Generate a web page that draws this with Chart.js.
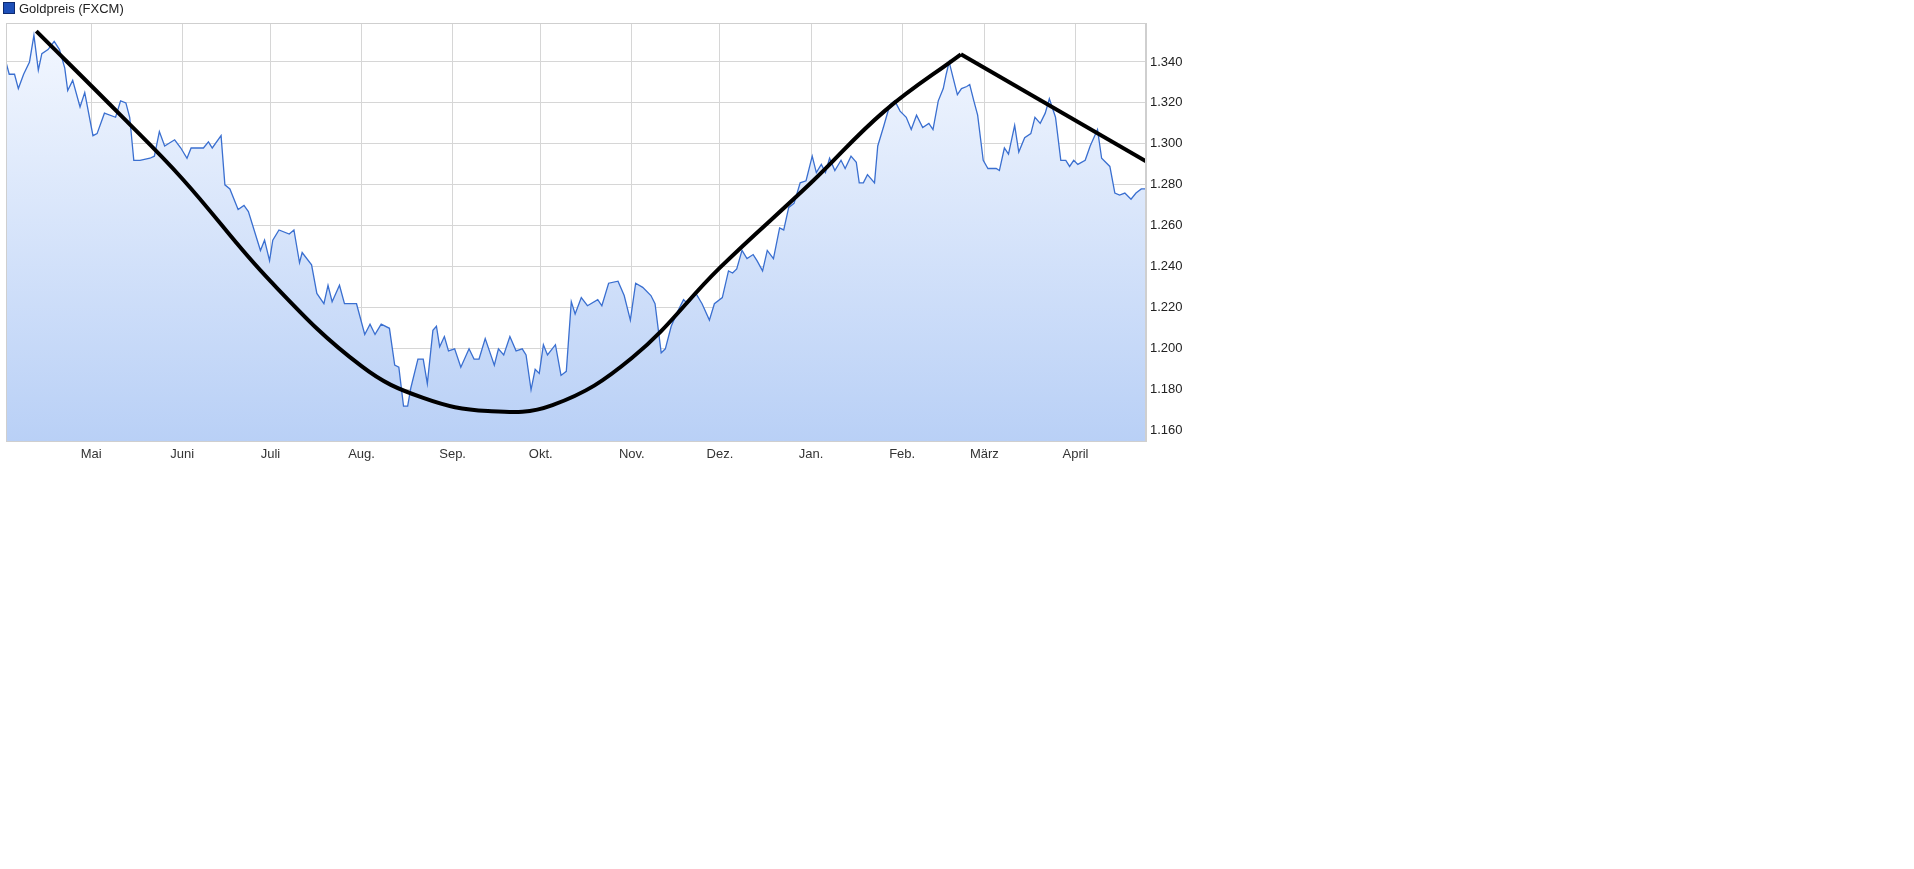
<!DOCTYPE html>
<html>
<head>
<meta charset="utf-8">
<script src="https://cdn.jsdelivr.net/npm/chart.js@4.4.1/dist/chart.umd.min.js"></script>
<style>
  body { margin: 0; background: #fff; width: 1914px; height: 869px; overflow: hidden; }
  #wrap { position: absolute; left: 0; top: 0; width: 1200px; height: 470px; }
  #legend { position: absolute; left: 3px; top: 1px; font: 13px "Liberation Sans", Arial, sans-serif; color: #222; }
  #legend span { display: inline-block; width: 10px; height: 10px; background: #1d4fb8; border: 1px solid #0d2a70; margin-right: 4px; vertical-align: -1px; }
</style>
</head>
<body>
<div id="wrap"><canvas id="chart" width="1200" height="470" style="width:1200px;height:470px"></canvas></div>
<div id="legend"><span></span>Goldpreis (FXCM)</div>
<script>
// days counted from 1 April of the first year
const monthDays = [30, 61, 91, 122, 153, 183, 214, 244, 275, 306, 334, 365];
const monthLabels = ['Mai', 'Juni', 'Juli', 'Aug.', 'Sep.', 'Okt.', 'Nov.', 'Dez.', 'Jan.', 'Feb.', 'März', 'April'];
const yTicks = [1.16, 1.18, 1.2, 1.22, 1.24, 1.26, 1.28, 1.3, 1.32, 1.34];

const priceDays = [0.6, 2.1, 3.9, 5.2, 7, 9, 10.5, 12, 13.2, 15.3, 17.4, 19.2, 21, 22, 23.7, 26.2, 27.8, 30.6, 32, 34.5,
  38.3, 40, 41.8, 43.1, 44.5, 46.6, 50, 51.5, 53.2, 55, 58.4, 60.5, 62.6, 64, 68.2, 69.9, 71.2, 74.2, 75.5, 77.2,
  80, 82, 83.5, 87.6, 89, 90.7, 91.8, 93.9, 97.4, 99, 100.9, 101.8, 105, 106.8, 109.2, 110.6, 112, 114.5, 116.2, 120.3,
  123.1, 124.9, 126.6, 128.7, 131.5, 133.3, 134.7, 136.3, 137.7, 138.8, 141.2, 143, 144.4, 146.3, 147.5, 148.6, 150.2, 151.6, 153.7, 155.8,
  158.6, 160.3, 162, 164.1, 167.2, 168.6, 170.4, 172.5, 174.6, 176.7, 178, 179.7, 181.1, 182.5, 183.9, 185.3, 188, 189.9, 191.7, 193.4,
  194.7, 196.8, 198.9, 202.4, 203.8, 206.1, 209.3, 211.4, 213.5, 215.3, 217.7, 220.5, 221.9, 224, 225.4, 227.4, 229.5, 231.6, 233, 235.8,
  237.9, 240.4, 242.1, 244.8, 246.9, 248.3, 249.7, 251.5, 253.2, 255.3, 256.6, 258.5, 260.1, 262.2, 264.3, 265.7, 267.4, 269.2, 271.3, 273.3,
  275.4, 276.8, 278.5, 279.9, 281.3, 283.1, 285.2, 286.6, 288.6, 290.4, 291.4, 292.8, 294.2, 296.6, 297.7, 299.8, 301.8, 303.5, 305.3, 307.4,
  309.1, 310.9, 313, 315.1, 316.5, 318.3, 320, 321, 322, 323.4, 324.8, 326.2, 328, 329, 330.4, 331.7, 333.6, 335.2, 338, 339.1,
  340.8, 342.2, 344.3, 345.7, 347.7, 349.8, 351.2, 353, 354.7, 356.1, 358.2, 360, 361.7, 363, 364.4, 365.8, 368.3, 370, 372.5, 373.9,
  376.7, 378.4, 380, 381.8, 383.9, 385.6, 387.4, 389];
const prices = [1.342, 1.334, 1.334, 1.327, 1.334, 1.340, 1.353, 1.336, 1.344, 1.346, 1.350, 1.346, 1.337, 1.326, 1.331, 1.318, 1.325, 1.304, 1.305, 1.315,
  1.313, 1.321, 1.320, 1.313, 1.292, 1.292, 1.293, 1.294, 1.306, 1.299, 1.302, 1.298, 1.293, 1.298, 1.298, 1.301, 1.298, 1.304, 1.280, 1.278,
  1.268, 1.270, 1.267, 1.248, 1.253, 1.243, 1.253, 1.258, 1.256, 1.258, 1.242, 1.247, 1.241, 1.227, 1.222, 1.231, 1.223, 1.231, 1.222, 1.222,
  1.207, 1.212, 1.207, 1.212, 1.210, 1.192, 1.191, 1.172, 1.172, 1.181, 1.195, 1.195, 1.183, 1.209, 1.211, 1.201, 1.206, 1.199, 1.200, 1.191,
  1.200, 1.195, 1.195, 1.205, 1.192, 1.200, 1.197, 1.206, 1.199, 1.200, 1.197, 1.180, 1.190, 1.188, 1.202, 1.197, 1.202, 1.187, 1.189, 1.223,
  1.217, 1.225, 1.221, 1.224, 1.221, 1.232, 1.233, 1.226, 1.214, 1.232, 1.230, 1.226, 1.222, 1.198, 1.200, 1.211, 1.218, 1.224, 1.222, 1.227,
  1.222, 1.214, 1.222, 1.225, 1.238, 1.237, 1.239, 1.248, 1.244, 1.246, 1.243, 1.238, 1.248, 1.244, 1.259, 1.258, 1.269, 1.271, 1.281, 1.282,
  1.294, 1.286, 1.290, 1.286, 1.293, 1.287, 1.292, 1.288, 1.294, 1.291, 1.281, 1.281, 1.285, 1.281, 1.299, 1.309, 1.319, 1.321, 1.316, 1.313,
  1.307, 1.314, 1.308, 1.310, 1.307, 1.321, 1.327, 1.334, 1.340, 1.332, 1.324, 1.327, 1.328, 1.329, 1.321, 1.314, 1.292, 1.288, 1.288, 1.287,
  1.298, 1.295, 1.309, 1.296, 1.303, 1.305, 1.313, 1.310, 1.315, 1.322, 1.313, 1.292, 1.292, 1.289, 1.292, 1.290, 1.292, 1.299, 1.307, 1.293,
  1.289, 1.276, 1.275, 1.276, 1.273, 1.276, 1.278, 1.278];

// hand-drawn trend curve (rounded bottom) and the straight segment after the peak
const curveDays = [11.3, 40, 61, 91, 122, 143, 165, 187, 214, 244, 275, 300, 326];
const curveValues = [1.355, 1.314, 1.283, 1.233, 1.1915, 1.176, 1.1696, 1.1725, 1.1955, 1.2396, 1.281, 1.316, 1.3437];
const lineDays = [326, 389];
const lineValues = [1.3437, 1.2915];

const toPoints = (xs, ys) => xs.map((x, i) => ({ x: x, y: ys[i] }));

const ctx = document.getElementById('chart');
const font = { family: '"Liberation Sans", Arial, sans-serif', size: 13 };

// grey frame round the plot area
const frame = {
    id: 'frame',
    afterDraw(chart) {
        const a = chart.chartArea, c = chart.ctx;
        c.save();
        c.strokeStyle = '#cfcfcf';
        c.lineWidth = 1;
        c.strokeRect(a.left + 0.5, a.top + 0.5, a.right - a.left - 1, a.bottom - a.top);
        c.restore();
    }
};

new Chart(ctx, {
    type: 'line',
    data: {
        datasets: [
            {
                data: toPoints(priceDays, prices),
                borderColor: '#3a6fd0',
                borderWidth: 1.3,
                pointRadius: 0,
                tension: 0,
                fill: 'start',
                backgroundColor: function(c) {
                    const area = c.chart.chartArea;
                    if (!area) return '#dbe7fb';
                    const g = c.chart.ctx.createLinearGradient(0, area.top, 0, area.bottom);
                    g.addColorStop(0, '#f4f8ff');
                    g.addColorStop(1, '#b9d0f6');
                    return g;
                },
                order: 2
            },
            {
                data: toPoints(curveDays, curveValues),
                borderColor: '#000',
                borderWidth: 4,
                pointRadius: 0,
                tension: 0.4,
                fill: false,
                order: 1
            },
            {
                data: toPoints(lineDays, lineValues),
                borderColor: '#000',
                borderWidth: 4,
                pointRadius: 0,
                tension: 0,
                fill: false,
                order: 1
            }
        ]
    },
    plugins: [frame],
    options: {
        responsive: false,
        animation: false,
        devicePixelRatio: 1,
        layout: { padding: { left: 6, top: 23, right: 0, bottom: 0 } },
        plugins: { legend: { display: false }, tooltip: { enabled: false } },
        scales: {
            x: {
                type: 'linear',
                min: 1,
                max: 389,
                afterBuildTicks: function(axis) { axis.ticks = monthDays.map(d => ({ value: d })); },
                afterFit: function(axis) { axis.height = 29; },
                ticks: {
                    autoSkip: false,
                    maxRotation: 0,
                    padding: 6,
                    color: '#333',
                    font: font,
                    callback: function(v) { return monthLabels[monthDays.indexOf(v)]; }
                },
                grid: { color: '#d6d6d6', drawTicks: false },
                border: { color: '#cfcfcf' }
            },
            y: {
                position: 'right',
                min: 1.155,
                max: 1.359,
                afterBuildTicks: function(axis) { axis.ticks = yTicks.map(v => ({ value: v })); },
                afterFit: function(axis) { axis.width = 54; },
                ticks: {
                    padding: 4,
                    color: '#222',
                    font: font,
                    callback: function(v) { return v.toFixed(3); }
                },
                grid: { color: '#d6d6d6', drawTicks: false },
                border: { color: '#cfcfcf' }
            }
        }
    }
});
</script>
</body>
</html>
